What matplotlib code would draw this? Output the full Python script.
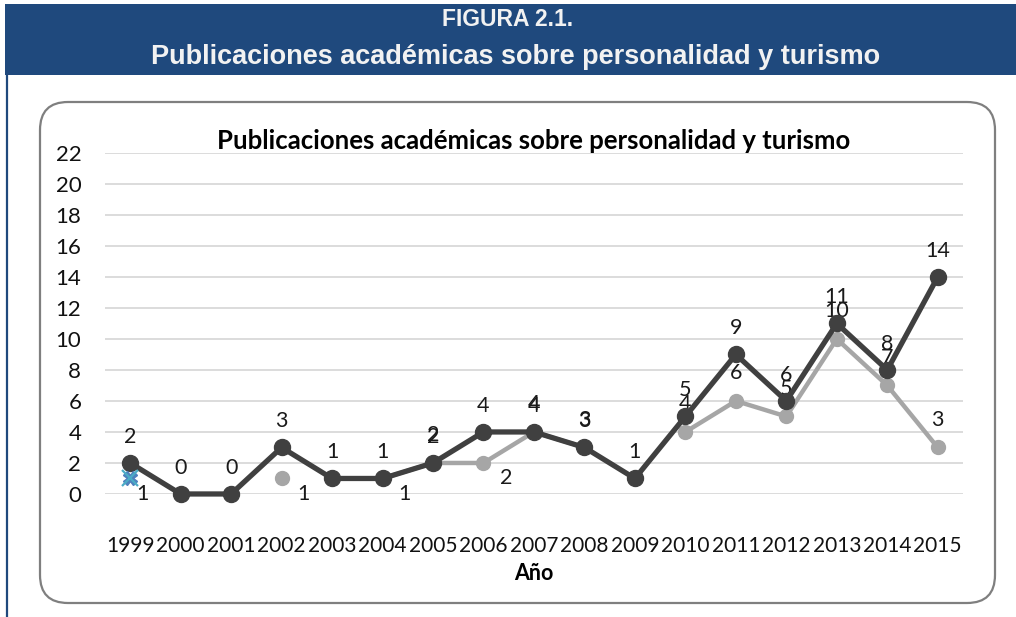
import numpy as np
import matplotlib
matplotlib.use("Agg")
import matplotlib.pyplot as plt
from matplotlib.patches import FancyBboxPatch, Rectangle

# datos
years = [1999, 2000, 2001, 2002, 2003, 2004, 2005, 2006, 2007, 2008,
         2009, 2010, 2011, 2012, 2013, 2014, 2015]
total = [2, 0, 0, 3, 1, 1, 2, 4, 4, 3, 1, 5, 9, 6, 11, 8, 14]
serie2 = [np.nan, np.nan, np.nan, 1, np.nan, 1, 2, 2, 4, 3,
          np.nan, 4, 6, 5, 10, 7, 3]
serie3 = [1] + [np.nan] * 16
yticks = list(range(0, 23, 2))
below_years = [2002, 2004, 2006]  # etiquetas de la serie gris bajo el punto

fig = plt.figure(figsize=(10.16, 6.17), dpi=100)

# fondo: cabecera azul, línea izquierda y marco redondeado
bg = fig.add_axes([0, 0, 1, 1])
bg.set_xlim(0, 1016)
bg.set_ylim(617, 0)
bg.axis("off")
blue = "#1F497D"
bg.add_patch(Rectangle((5, 4), 1011, 71, color=blue, lw=0))
bg.plot([7, 7], [75, 617], color=blue, lw=1.6)
bg.add_patch(FancyBboxPatch((40, 102), 955, 501,
                            boxstyle="round,pad=0,rounding_size=28",
                            fc="white", ec="#7F7F7F", lw=1.6))
bg.text(508, 20, "FIGURA 2.1.", ha="center", va="center", color="#F2F2F2",
        fontsize=16.5, fontweight="bold", family="Liberation Sans")
bg.text(516, 57, "Publicaciones académicas sobre personalidad y turismo",
        ha="center", va="center", color="#F2F2F2",
        fontsize=19.5, fontweight="bold", family="Liberation Sans")

ax = fig.add_axes([0.1033, 0.1994, 0.8445, 0.5527])
ax.patch.set_alpha(0)
x = np.arange(len(years))
ax.set_xlim(-0.5, len(years) - 0.5)
ax.set_ylim(0, 22)
ax.set_yticks(yticks)
ax.set_xticks(x)
ax.set_xticklabels([str(y) for y in years])
for s in ax.spines.values():
    s.set_visible(False)
ax.grid(axis="y", color="#D9D9D9", lw=1.3)
ax.set_axisbelow(True)
ax.tick_params(axis="both", length=0, labelcolor="#111111")
ax.tick_params(axis="y", pad=17, labelsize=16)
ax.tick_params(axis="x", pad=30, labelsize=15)
for lab in ax.get_xticklabels() + ax.get_yticklabels():
    lab.set_family("Lato")

ax.plot(x, serie2, color="#A6A6A6", lw=3.2, marker="o", ms=10,
        clip_on=False, zorder=3)
ax.plot(x, total, color="#404040", lw=3.8, marker="o", ms=11.5,
        clip_on=False, zorder=4)
ax.plot(x, serie3, ls="none", marker="X", ms=10, color="#4F81BD",
        clip_on=False, zorder=5)
ax.plot(x, serie3, ls="none", marker="x", ms=12, mew=1.6, color="#4BACC6",
        clip_on=False, zorder=6)

lab_kw = dict(ha="center", va="center", fontsize=15.5, family="Lato",
              color="#1A1A1A", textcoords="offset points")
for xi, v in zip(x, total):
    ax.annotate(str(v), (xi, v), xytext=(0, 19), **lab_kw)
for xi, yr, v in zip(x, years, serie2):
    if np.isnan(v):
        continue
    off = (16, -11) if yr in below_years else (0, 20)
    ax.annotate(str(int(v)), (xi, v), xytext=off, **lab_kw)
for xi, v in zip(x, serie3):
    if not np.isnan(v):
        ax.annotate(str(v), (xi, v), xytext=(9, -11), **lab_kw)

ax.set_title("Publicaciones académicas sobre personalidad y turismo",
             fontsize=18.5, fontweight="bold", family="Lato", pad=1)
ax.set_xlabel("Año", fontsize=15.5, fontweight="bold", family="Lato",
              labelpad=5)

fig.savefig("out.png", dpi=100)
